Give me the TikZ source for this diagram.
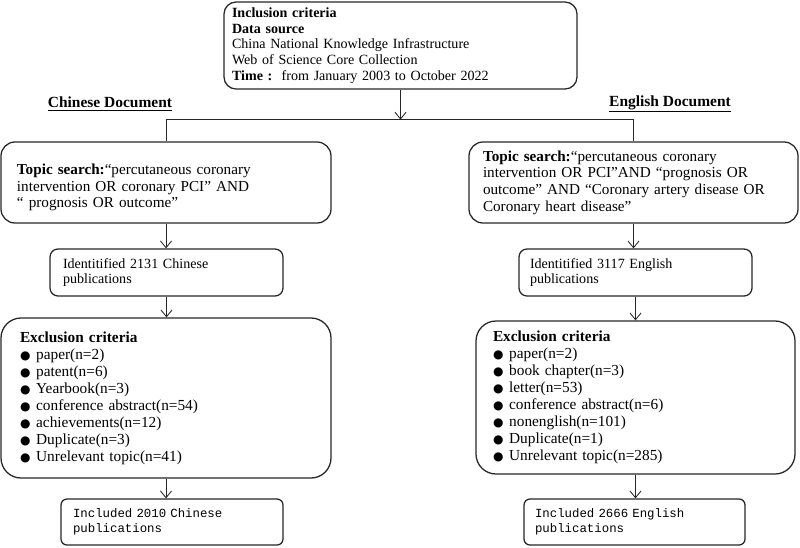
\documentclass[tikz,border=0pt]{standalone}
\usepackage{fontspec}
\setmainfont{Liberation Serif}
\setmonofont{Liberation Mono}
\newfontfamily\symfont{DejaVu Sans}
\usetikzlibrary{arrows.meta}

\def\px{0.025cm}
\newcommand{\bul}{\makebox[11.5pt][l]{\symfont\fontsize{8.5}{8.5}\selectfont ●}}

\tikzset{
    box/.style={draw=black!85, line width=0.9pt, rounded corners=#1, align=left,
        inner xsep=0pt, inner ysep=0pt, font=\fontsize{10}{11.2}\selectfont},
    topicbox/.style={box=#1, font=\fontsize{10.8}{11.8}\selectfont},
    listbox/.style={box=#1, font=\fontsize{10.9}{12.1}\selectfont},
    monobox/.style={box=#1, font=\ttfamily\fontsize{8.8}{10.7}\selectfont},
    heading/.style={font=\bfseries\fontsize{11}{12}\selectfont, inner sep=0pt},
    link/.style={draw=black!85, line width=0.6pt, -{Straight Barb[length=1.7mm, width=2.8mm]}},
    branch/.style={draw=black!85, line width=0.6pt},
}

\begin{document}
\begin{tikzpicture}[x=\px, y=-\px]
    \useasboundingbox (0,0) rectangle (800,547);

    \node[box=3mm, minimum width=353*\px, minimum height=87*\px, text width=337*\px] (incl) at (400.5,45.5)
        {\textbf{Inclusion criteria}\\ \textbf{Data source}\\ China National Knowledge Infrastructure\\
         Web of Science Core Collection\\ \textbf{Time :}\ \ from January 2003 to October 2022};

    \node[heading] (headCN) at (110,104) {\underline{Chinese Document}};
    \node[heading] (headEN) at (670,104) {\underline{English Document}};

    % Chinese branch
    \node[topicbox=3.5mm, minimum width=330*\px, minimum height=81*\px, text width=298*\px] (topicCN) at (166,182.5)
        {\rule{0pt}{14.5pt}\textbf{Topic search:}“percutaneous coronary\\ intervention OR coronary PCI” AND\\ “ prognosis OR outcome”};
    \node[box=2mm, minimum width=233*\px, minimum height=47*\px, text width=207*\px] (identCN) at (166.5,272.5)
        {Identitified 2131 Chinese\\ publications};
    \node[listbox=5mm, minimum width=330*\px, minimum height=160*\px, text width=292*\px] (exclCN) at (166,398)
        {\textbf{Exclusion criteria}\\ \bul paper(n=2)\\ \bul patent(n=6)\\ \bul Yearbook(n=3)\\
         \bul conference abstract(n=54)\\ \bul achievements(n=12)\\ \bul Duplicate(n=3)\\ \bul Unrelevant topic(n=41)};
    \node[monobox=1.5mm, minimum width=222*\px, minimum height=46*\px, text width=198*\px] (finalCN) at (172,522)
        {Included 2010 Chinese\\ publications};

    % English branch
    \node[topicbox=3.5mm, minimum width=329*\px, minimum height=81*\px, text width=301*\px] (topicEN) at (633.5,182.5)
        {\textbf{Topic search:}“percutaneous coronary\\ intervention OR PCI”AND “prognosis OR\\
         outcome” AND “Coronary artery disease OR\\ Coronary heart disease”};
    \node[box=2mm, minimum width=233*\px, minimum height=47*\px, text width=211*\px] (identEN) at (635.5,272.5)
        {Identitified 3117 English\\ publications};
    \node[listbox=5mm, minimum width=319*\px, minimum height=153*\px, text width=285*\px] (exclEN) at (635.5,397.5)
        {\textbf{Exclusion criteria}\\ \bul paper(n=2)\\ \bul book chapter(n=3)\\ \bul letter(n=53)\\
         \bul conference abstract(n=6)\\ \bul nonenglish(n=101)\\ \bul Duplicate(n=1)\\ \bul Unrelevant topic(n=285)};
    \node[monobox=1.5mm, minimum width=221*\px, minimum height=46*\px, text width=199*\px] (finalEN) at (634.5,522)
        {Included 2666 English\\ publications};

    \path (incl.south) ++(0,30) coordinate (split);
    \draw[link] (incl.south) -- (split);
    \draw[branch] (split) -| (topicCN.north);
    \draw[branch] (split) -| (topicEN.north);

    \draw[link] (topicCN.south) -- (topicCN.south |- identCN.north);
    \draw[link] (identCN.south) -- (identCN.south |- exclCN.north);
    \draw[link] (exclCN.south) -- (exclCN.south |- finalCN.north);

    \draw[link] (topicEN.south) -- (topicEN.south |- identEN.north);
    \draw[link] (identEN.south) -- (identEN.south |- exclEN.north);
    \draw[link] (exclEN.south) -- (exclEN.south |- finalEN.north);
\end{tikzpicture}
\end{document}
